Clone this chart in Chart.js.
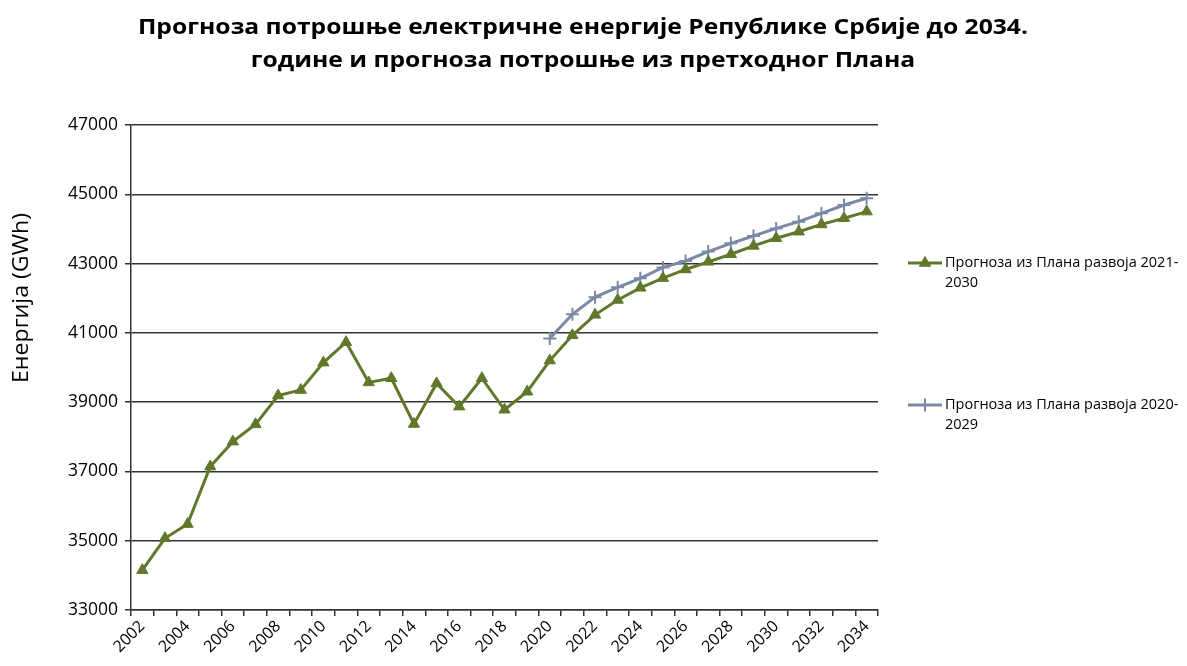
<!DOCTYPE html>
<html>
<head>
<meta charset="utf-8">
<script src="https://cdn.jsdelivr.net/npm/chart.js@4/dist/chart.umd.min.js"></script>
<style>
  html, body { margin: 0; padding: 0; background: #ffffff; }
  #wrap { width: 1187px; height: 666px; position: relative; }
</style>
</head>
<body>
<div id="wrap"><canvas id="c" width="1187" height="666"></canvas></div>
<script>
const titleLines = [
  'Прогноза потрошње електричне енергије Републике Србије до 2034.',
  'године и прогноза потрошње из претходног Плана'
];
const yAxisTitle = 'Енергија (GWh)';
const years = ['2002','2003','2004','2005','2006','2007','2008','2009','2010','2011','2012','2013','2014','2015','2016','2017','2018','2019','2020','2021','2022','2023','2024','2025','2026','2027','2028','2029','2030','2031','2032','2033','2034'];
const plan2021Label = 'Прогноза из Плана развоја 2021-2030';
const plan2021Legend = ['Прогноза из Плана развоја 2021-', '2030'];
const plan2021 = [34150, 35070, 35480, 37140, 37860, 38360, 39190, 39350, 40140, 40730, 39570, 39690, 38370, 39540, 38870, 39690, 38780, 39300, 40200, 40930, 41520, 41950, 42300, 42580, 42830, 43050, 43270, 43510, 43730, 43920, 44130, 44310, 44500];
const plan2020Label = 'Прогноза из Плана развоја 2020-2029';
const plan2020Legend = ['Прогноза из Плана развоја 2020-', '2029'];
const plan2020 = [null, null, null, null, null, null, null, null, null, null, null, null, null, null, null, null, null, null, 40840, 41535, 42030, 42315, 42575, 42890, 43075, 43345, 43585, 43795, 44015, 44210, 44450, 44690, 44885];
const yMin = 33000, yMax = 47000, yStep = 2000;

const GREEN = '#61782B';
const BLUE = '#7A89A6';
const GRID = '#333333';

const legendLines = [plan2021Legend, plan2020Legend];

function fillStretched(ctx, text, cx, cy, targetWidth) {
  const w = ctx.measureText(text).width;
  const s = targetWidth ? targetWidth / w : 1;
  ctx.save();
  ctx.translate(cx, cy);
  ctx.scale(s, 1);
  ctx.fillText(text, 0, 0);
  ctx.restore();
}

const overlay = {
  id: 'overlay',
  afterDraw(chart) {
    const ctx = chart.ctx;
    ctx.save();
    // title
    ctx.fillStyle = '#000';
    ctx.textAlign = 'center';
    ctx.textBaseline = 'middle';
    ctx.font = 'bold 22px "Open Sans"';
    const w0 = ctx.measureText(titleLines[0]).width;
    const sx = 890 / w0;
    [titleLines[0], titleLines[1]].forEach((t, i) => {
      ctx.save();
      ctx.translate(583, i === 0 ? 28 : 61);
      ctx.scale(sx, 1);
      ctx.fillText(t, 0, 0);
      ctx.restore();
    });
    // y axis title
    ctx.save();
    ctx.translate(22, 298);
    ctx.rotate(-Math.PI / 2);
    ctx.font = '21px "Open Sans"';
    ctx.textAlign = 'center';
    ctx.textBaseline = 'middle';
    fillStretched(ctx, yAxisTitle, 0, 0, 170);
    ctx.restore();
    // legend
    const ys = [263, 405];
    chart.data.datasets.forEach((ds, i) => {
      const y = ys[i];
      ctx.strokeStyle = ds.borderColor;
      ctx.fillStyle = ds.pointBackgroundColor;
      ctx.lineWidth = 3;
      ctx.beginPath();
      ctx.moveTo(908, y);
      ctx.lineTo(942, y);
      ctx.stroke();
      ctx.strokeStyle = ds.pointBorderColor;
      ctx.lineWidth = ds.pointBorderWidth;
      Chart.helpers.drawPoint(ctx, {
        pointStyle: ds.pointStyle,
        radius: ds.pointRadius,
        borderWidth: ds.pointBorderWidth,
        rotation: 0
      }, 925, y);
      ctx.fillStyle = '#000';
      ctx.textAlign = 'left';
      ctx.textBaseline = 'middle';
      ctx.font = '14.5px "Open Sans"';
      legendLines[i].forEach((t, k) => ctx.fillText(t, 945, y + k * 20));
    });
    ctx.restore();
  }
};

new Chart(document.getElementById('c'), {
  type: 'line',
  data: {
    labels: years,
    datasets: [
      {
        label: plan2021Label,
        data: plan2021,
        borderColor: GREEN,
        backgroundColor: GREEN,
        borderWidth: 3,
        pointStyle: 'triangle',
        pointRadius: 6.5,
        pointBorderWidth: 1,
        pointBackgroundColor: GREEN,
        pointBorderColor: GREEN,
        tension: 0
      },
      {
        label: plan2020Label,
        data: plan2020,
        borderColor: BLUE,
        backgroundColor: BLUE,
        borderWidth: 3,
        pointStyle: 'cross',
        pointRadius: 6.5,
        pointBorderWidth: 2,
        pointBackgroundColor: BLUE,
        pointBorderColor: BLUE,
        tension: 0,
        spanGaps: false
      }
    ]
  },
  options: {
    responsive: false,
    animation: false,
    devicePixelRatio: 1,
    layout: { padding: { top: 125, right: 309, bottom: 0, left: 0 } },
    plugins: {
      legend: { display: false },
      title: { display: false },
      tooltip: { enabled: false }
    },
    scales: {
      x: {
        type: 'category',
        offset: true,
        afterFit(scale) { scale.height = 56; },
        grid: {
          display: true,
          drawOnChartArea: false,
          drawTicks: true,
          tickLength: 6,
          color: GRID,
          lineWidth: 1.5,
          offset: true
        },
        border: { display: true, color: GRID, width: 1.5 },
        ticks: {
          autoSkip: false,
          maxRotation: 45,
          minRotation: 45,
          padding: 1,
          color: '#000',
          font: { family: 'Open Sans', size: 16 },
          callback(value, index) { return index % 2 === 0 ? years[index] : ''; }
        }
      },
      y: {
        min: yMin,
        max: yMax,
        afterFit(scale) { scale.width = 131; },
        afterBuildTicks(scale) {
          const t = [];
          for (let v = yMin; v <= yMax; v += yStep) t.push({ value: v });
          scale.ticks = t;
        },
        grid: {
          display: true,
          drawOnChartArea: true,
          drawTicks: true,
          tickLength: 6,
          color: GRID,
          lineWidth: 1.5
        },
        border: { display: true, color: GRID, width: 1.5 },
        ticks: {
          stepSize: yStep,
          padding: 7,
          color: '#000',
          font: { family: 'Open Sans', size: 17.5 },
          callback(v) { return String(v); }
        },
        title: { display: false }
      }
    }
  },
  plugins: [overlay]
});
</script>
</body>
</html>
